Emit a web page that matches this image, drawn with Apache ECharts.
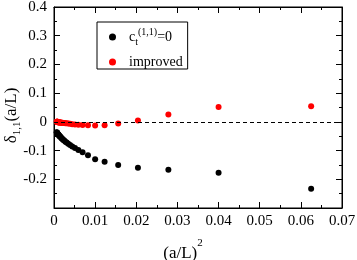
<!DOCTYPE html>
<html><head><meta charset="utf-8">
<script src="https://cdn.jsdelivr.net/npm/echarts@6/dist/echarts.min.js"></script>
<style>html,body{margin:0;padding:0;background:#fff}#c{width:357px;height:260px}</style>
</head><body><div id="c"></div>
<script>
const xVals = [0.0625,0.04,0.0278,0.0204,0.0156,0.0123,0.01,0.00826,0.00694,0.00592,0.0051,0.00444,0.00391,0.00346,0.00309,0.00277,0.0025,0.00227,0.00207,0.00189,0.00174,0.0016,0.00148,0.00137,0.00128,0.00119,0.00111,0.00104,0.00098,0.00092,0.00087,0.00082,0.00077,0.00073,0.00069,0.00066];
const ctZero = [-0.233,-0.177,-0.167,-0.160,-0.150,-0.139,-0.130,-0.116,-0.106,-0.098,-0.091,-0.086,-0.081,-0.076,-0.072,-0.069,-0.065,-0.063,-0.060,-0.058,-0.055,-0.053,-0.051,-0.050,-0.048,-0.047,-0.045,-0.044,-0.043,-0.042,-0.041,-0.040,-0.039,-0.038,-0.037,-0.036];
const improved = [0.054,0.052,0.026,0.005,-0.006,-0.012,-0.013,-0.012,-0.011,-0.010,-0.009,-0.008,-0.007,-0.006,-0.005,-0.005,-0.004,-0.004,-0.003,-0.003,-0.003,-0.002,-0.002,-0.002,-0.002,-0.001,-0.001,-0.001,-0.001,-0.001,0,0,0,0,0,0];
const seriesNames = ['ct0', 'improved'];
const xRange = [0, 0.07], xStep = 0.01;
const yRange = [-0.3, 0.4], yStep = 0.1;

const FONT = 'Liberation Serif';
const chart = echarts.init(document.getElementById('c'), null, {renderer: 'canvas'});
const pts = ys => xVals.map((x, i) => [x, ys[i]]);
const axisCommon = {
  axisLine: {show: true, onZero: false, lineStyle: {color: '#000', width: 1}},
  axisTick: {show: true, inside: true, length: 6, lineStyle: {color: '#000'}},
  minorTick: {show: true, splitNumber: 2, length: 3, lineStyle: {color: '#000'}},
  splitLine: {show: false}
};
function xa(pos, labels) {
  return Object.assign({}, axisCommon, {
    type: 'value', position: pos, min: xRange[0], max: xRange[1], interval: xStep,
    axisLabel: {show: labels, color: '#000', fontFamily: FONT, fontSize: 15, margin: 6,
      formatter: v => v === 0 ? '0' : v.toFixed(2)}
  });
}
function ya(pos, labels) {
  return Object.assign({}, axisCommon, {
    type: 'value', position: pos, min: yRange[0], max: yRange[1], interval: yStep,
    axisLabel: {show: labels, color: '#000', fontFamily: FONT, fontSize: 15, margin: 7,
      formatter: v => Math.abs(v + 0.3) < 1e-9 ? '' : (Math.abs(v) < 1e-9 ? '0' : v.toFixed(1))}
  });
}
const xBottom = xa('bottom', true);
xBottom.name = '{n|(a/L)}{p|2}';
xBottom.nameLocation = 'middle';
xBottom.nameGap = 30;
xBottom.nameMoveOverlap = false;
xBottom.nameTextStyle = {padding: [0, 30, 0, 0], rich: {
  n: {fontFamily: FONT, fontSize: 17, color: '#000', lineHeight: 24, verticalAlign: 'bottom'},
  p: {fontFamily: FONT, fontSize: 11, color: '#000', verticalAlign: 'top', lineHeight: 24}
}};
const yLeft = ya('left', true);
yLeft.name = '{d|δ}{s|1,1}{d|(a/L)}';
yLeft.nameLocation = 'middle';
yLeft.nameRotate = 90;
yLeft.nameGap = 41;
yLeft.nameMoveOverlap = false;
yLeft.nameTextStyle = {padding: [0, 16, 0, 0], verticalAlign: 'middle', align: 'center', rich: {
  d: {fontFamily: FONT, fontSize: 17, color: '#000', lineHeight: 20, verticalAlign: 'top'},
  s: {fontFamily: FONT, fontSize: 11, color: '#000', lineHeight: 20, verticalAlign: 'bottom'}
}};
const legendRich = {
  b: {fontFamily: FONT, fontSize: 14, color: '#000', lineHeight: 20, padding: [0, 0, 0, 3]},
  c: {fontFamily: FONT, fontSize: 14, color: '#000', lineHeight: 20, verticalAlign: 'middle', padding: [0, 0, 0, 3]},
  sb: {fontFamily: FONT, fontSize: 10, color: '#000', lineHeight: 20, verticalAlign: 'bottom'},
  sp: {fontFamily: FONT, fontSize: 10, color: '#000', lineHeight: 20, verticalAlign: 'top'},
  e: {fontFamily: FONT, fontSize: 14, color: '#000', lineHeight: 20, verticalAlign: 'middle'}
};
chart.setOption({
  animation: false,
  grid: {left: 54, right: 15, top: 7, bottom: 52, containLabel: false, outerBoundsMode: 'none',
    show: true, borderColor: '#000', borderWidth: 1, backgroundColor: 'transparent'},
  xAxis: [xBottom, xa('top', false)],
  yAxis: [yLeft, ya('right', false)],
  legend: {
    orient: 'vertical', left: 97, top: 22, itemWidth: 17, itemHeight: 7, itemGap: 8,
    padding: [5, 5, 0, 12], borderColor: '#000', borderWidth: 1, backgroundColor: '#fff',
    icon: 'circle',
    data: seriesNames,
    formatter: n => n === 'ct0' ? '{c|c}{sb|t}{sp|(1,1)}{e|=0}' : '{b|improved}',
    textStyle: {rich: legendRich}
  },
  series: [
    {name: 'ct0', type: 'scatter', data: pts(ctZero), symbolSize: 6, itemStyle: {color: '#000', opacity: 1},
     markLine: {silent: true, symbol: 'none', label: {show: false},
       lineStyle: {color: '#000', width: 1, type: [4, 3]}, data: [{yAxis: 0}]}},
    {name: 'improved', type: 'scatter', data: pts(improved), symbolSize: 6, itemStyle: {color: '#ff0000', opacity: 1}}
  ]
});
</script></body></html>
